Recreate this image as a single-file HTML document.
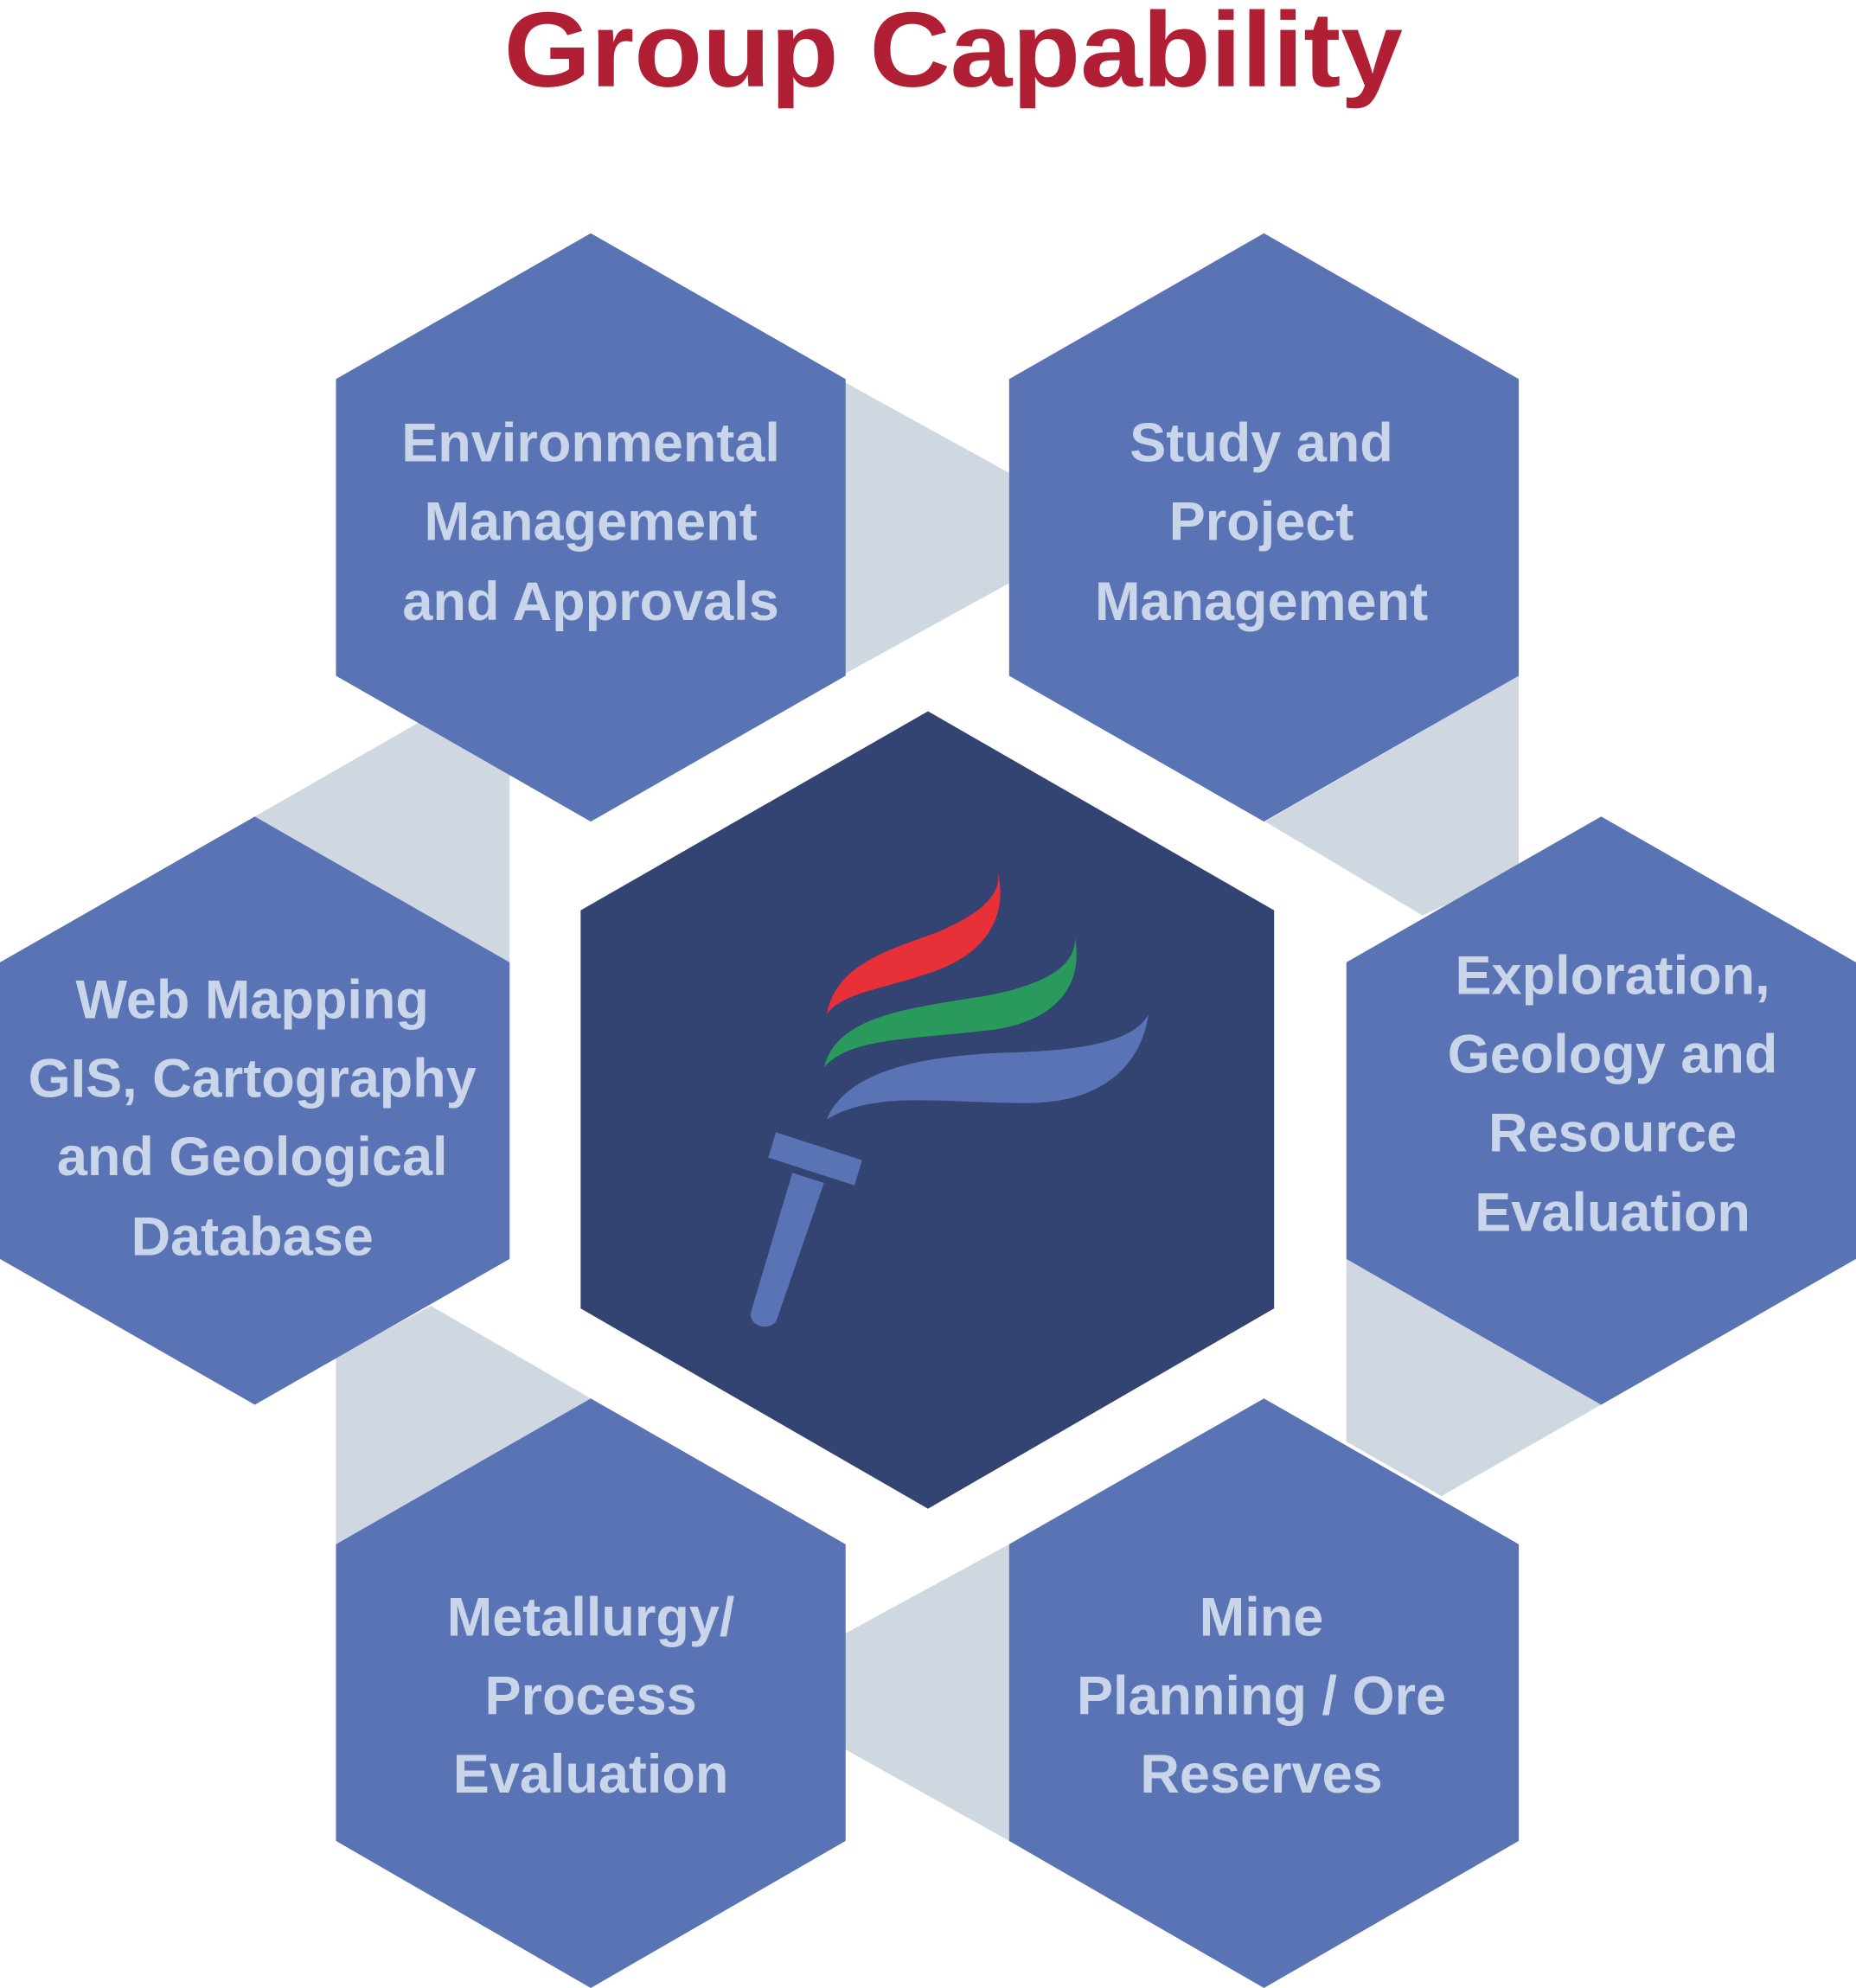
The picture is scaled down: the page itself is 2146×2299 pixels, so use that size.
<!DOCTYPE html>
<html><head><meta charset="utf-8"><style>
html,body{margin:0;padding:0;background:#fff;}
svg{display:block;}
text{font-family:"Liberation Sans",sans-serif;font-weight:bold;}
</style></head><body>
<svg width="2146" height="2299" viewBox="0 0 1464 1568" preserveAspectRatio="none" xmlns="http://www.w3.org/2000/svg">
<text x="752" y="68" text-anchor="middle" font-size="84" fill="#b01f33" textLength="709" lengthAdjust="spacingAndGlyphs">Group Capability</text>
<g fill="#cfd8e0">
<polygon points="660,298 796,373 796,460 660,535"/>
<polygon points="998,648 1198,533 1198,688 1122,722"/>
<polygon points="1062,990 1263,1108 1137,1180 1062,1137"/>
<polygon points="660,1292 796,1218 796,1452 660,1376"/>
<polygon points="466,1103 265,1218 265,1070 340,1030"/>
<polygon points="201,644 330,570 402,610 402,759"/>
</g>
<g fill="#5a73b5">
<polygon points="466,184 667,299 667,533 466,648 265,533 265,299"/>
<polygon points="997,184 1198,299 1198,533 997,648 796,533 796,299"/>
<polygon points="201,644 402,759 402,993 201,1108 0,993 0,759"/>
<polygon points="1263,644 1464,759 1464,993 1263,1108 1062,993 1062,759"/>
<polygon points="466,1103 667,1218 667,1452 466,1568 265,1452 265,1218"/>
<polygon points="997,1103 1198,1218 1198,1452 997,1568 796,1452 796,1218"/>
</g>
<polygon points="732,561 1005,718 1005,1032 732,1190 458,1032 458,718" fill="#334372"/>
<g fill="#c9d6ea" font-size="43" text-anchor="middle">
<text x="466" y="364">Environmental</text>
<text x="466" y="426">Management</text>
<text x="466" y="489">and Approvals</text>
<text x="995" y="364">Study and</text>
<text x="995" y="426">Project</text>
<text x="995" y="489">Management</text>
<text x="199" y="803">Web Mapping</text>
<text x="199" y="865">GIS, Cartography</text>
<text x="199" y="927">and Geological</text>
<text x="199" y="990">Database</text>
<text x="1272" y="784">Exploration,</text>
<text x="1272" y="846">Geology and</text>
<text x="1272" y="908">Resource</text>
<text x="1272" y="971">Evaluation</text>
<text x="466" y="1290">Metallurgy/</text>
<text x="466" y="1352">Process</text>
<text x="466" y="1414">Evaluation</text>
<text x="995" y="1290">Mine</text>
<text x="995" y="1352">Planning / Ore</text>
<text x="995" y="1414">Reserves</text>
</g>
<g>
<path d="M652,800 C660,760 700,750 740,735 C775,720 790,705 787,688 C795,720 780,750 740,765 C700,780 665,782 652,800 Z" fill="#e83038"/>
<path d="M650,842 C660,800 720,795 780,785 C830,775 848,760 848,740 C855,780 830,805 785,812 C720,820 670,818 650,842 Z" fill="#2a9a5c"/>
<path d="M652,883 C670,840 740,832 800,830 C860,828 895,820 906,800 C900,840 870,870 810,870 C740,870 690,860 652,883 Z" fill="#5a73b5"/>
<polygon points="612,893 680,915 674,935 606,913" fill="#5a73b5"/>
<path d="M625,925 L650,933 L613,1040 C610,1050 592,1048 592,1036 Z" fill="#5a73b5"/>
</g>
</svg>
</body></html>
